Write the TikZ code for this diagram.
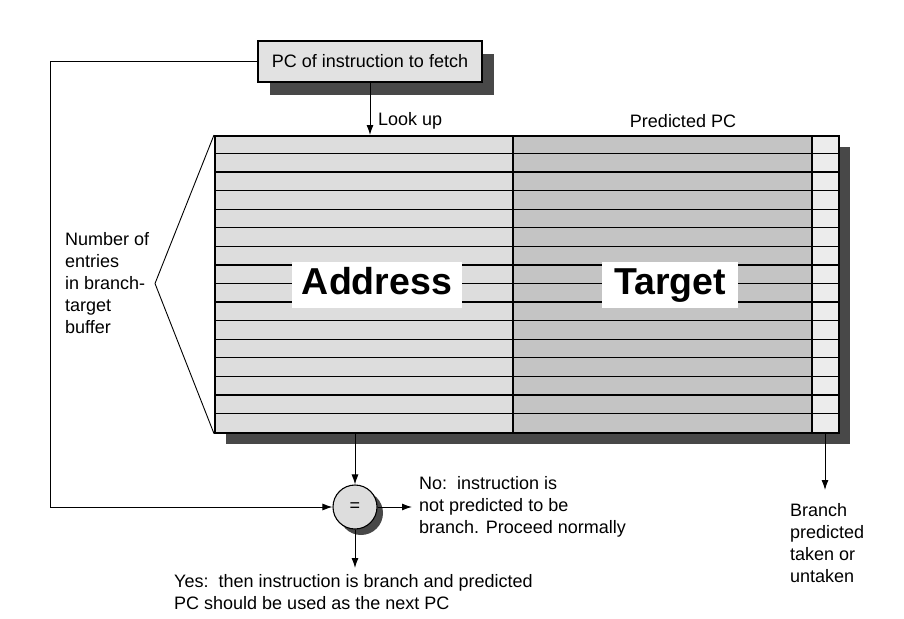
\documentclass[tikz,border=0pt]{standalone}
\usepackage{fontspec}
\setmainfont{Liberation Sans}
\usetikzlibrary{arrows.meta,calc}
\definecolor{addrc}{RGB}{221,221,221}
\definecolor{targc}{RGB}{196,196,196}
\definecolor{bitc}{RGB}{236,236,236}
\definecolor{shadc}{RGB}{72,72,72}
\definecolor{boxc}{RGB}{226,226,226}
\begin{document}
\begin{tikzpicture}[x=1pt,y=-1pt,
  lbl/.style={font=\fontsize{18}{22}\selectfont, align=left, inner sep=0pt},
  arr/.style={-{Latex[length=10pt,width=7pt]}, line width=1pt},
  ln/.style={line width=0.9pt},
  bigtxt/.style={fill=white, font=\bfseries\fontsize{37.5}{37.5}\selectfont, inner sep=0pt, minimum height=46pt, text height=27pt, text depth=8pt}]
\useasboundingbox (0,0) rectangle (904,618);
\fill[white] (0,0) rectangle (904,618);
% PC box with shadow
\fill[shadc] (270,54) rectangle (494,95);
\node (pc) [draw, line width=1.1pt, fill=boxc, minimum width=224pt, minimum height=41pt, inner sep=0pt, font=\fontsize{18}{20}\selectfont] at (370,61.5) {PC of instruction to fetch};
% table shadow and body
\fill[shadc] (226,147) rectangle (850,444);
\fill[addrc] (214,135) rectangle (513,432);
\fill[targc] (513,135) rectangle (812,432);
\fill[bitc] (812,135) rectangle (838,432);
\foreach \i in {1,...,15} {
  \draw[line width=1.3pt] (214,{135+\i*18.5625}) -- (838,{135+\i*18.5625});
}
\draw[line width=1.3pt] (513,135) -- (513,432);
\draw[line width=1.3pt] (812,135) -- (812,432);
\node (btb) [draw, line width=1.6pt, minimum width=624pt, minimum height=297pt, inner sep=0pt, anchor=north west] at (214,135) {};
\node (addr) [bigtxt, minimum width=170pt] at (377,285) {Address};
\node (targ) [bigtxt, minimum width=136pt] at (670,285) {Target};
% labels above table
\node (lookup) [lbl, anchor=west] at (378,121) {Look up};
\node (predpc) [lbl] at (683,121) {Predicted PC};
\draw[arr] (pc.south) -- (pc.south |- btb.north);
% bracket
\coordinate (brk) at (155,283.5);
\draw[ln] (btb.north west) -- (brk) -- (btb.south west);
\node (num) [lbl, anchor=west] at (65,283) {Number of\\entries\\in branch-\\target\\buffer};
% comparator
\fill[shadc] (361,513) circle (22pt);
\node (eq) [circle, draw, line width=1.1pt, fill=addrc, minimum size=44pt, inner sep=0pt, font=\fontsize{18}{20}\selectfont] at (355,507) {=};
\draw[arr] (eq |- btb.south) -- (eq.north);
\coordinate (fb) at (50,507);
\draw[arr] (pc.west) -- (pc.west -| fb) -- (fb) -- (eq.west);
\coordinate (noend) at (412,507);
\draw[arr] (eq.east) -- (noend);
\node (no) [lbl, anchor=west] at (419,507) {No:\ \ instruction is\\not predicted to be\\branch. Proceed normally};
\coordinate (yesend) at (355,568);
\draw[arr] (eq.south) -- (yesend);
\node (yes) [lbl, anchor=west] at (174,592) {Yes:\ \ then instruction is branch and predicted\\PC should be used as the next PC};
% branch predicted bit
\coordinate (bittop) at (825,432);
\coordinate (bitend) at (825,490);
\draw[arr] (bittop) -- (bitend);
\node (taken) [lbl, anchor=west] at (790,543) {Branch\\predicted\\taken or\\untaken};
\end{tikzpicture}
\end{document}
